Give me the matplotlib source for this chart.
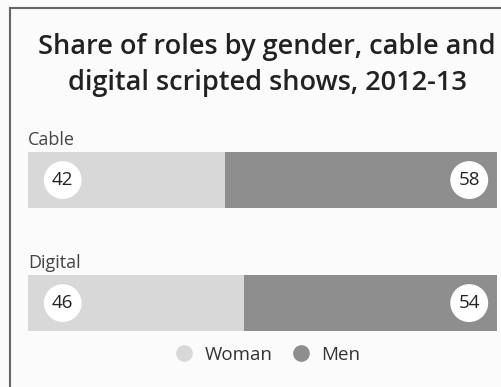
import matplotlib
matplotlib.use("Agg")
import matplotlib.pyplot as plt
from matplotlib.lines import Line2D

categories = ["Cable", "Digital"]
woman = [42, 46]
men = [58, 54]
series_names = ["Woman", "Men"]
title = "Share of roles by gender, cable and\ndigital scripted shows, 2012-13"

W, H = 501, 387
fig = plt.figure(figsize=(W / 100, H / 100), dpi=100)
fig.patch.set_facecolor("#fbfbfb")
plt.rcParams['font.family'] = ['Open Sans', 'DejaVu Sans']

c_woman = "#d8d8d8"
c_men = "#8e8e8e"

def fx(px):
    return px / W

def fy(py):
    return 1 - py / H

# frame
fig.add_artist(Line2D([fx(10), fx(10)], [fy(8), 0], color="#666666", lw=1.5, transform=fig.transFigure))
fig.add_artist(Line2D([fx(10), 1], [fy(8), fy(8)], color="#666666", lw=1.5, transform=fig.transFigure))

fig.text(fx(267), fy(65), title, ha="center", va="center", fontsize=19.5,
         color="#222222", linespacing=1.38, fontweight="semibold")

ax = fig.add_axes([fx(28), fy(340), fx(497) - fx(28), (340 - 145) / H])
ax.set_facecolor("none")
ypos = list(range(len(categories)))
bh = 0.455
ax.barh(ypos, woman, height=bh, color=c_woman, label=series_names[0])
ax.barh(ypos, men, left=woman, height=bh, color=c_men, label=series_names[1])
ax.set_xlim(0, 100)
ax.set_ylim(1.30, -0.285)
ax.axis("off")

for i, cat in enumerate(categories):
    ax.annotate(cat, xy=(0, i - bh / 2), xytext=(0, 2), textcoords="offset points",
                ha="left", va="bottom", fontsize=13, color="#444444")
    circ = dict(boxstyle="circle,pad=0.4", fc="white", ec="white")
    ax.annotate(str(woman[i]), xy=(0, i), xytext=(25, 0), textcoords="offset points",
                ha="center", va="center", fontsize=13.5, color="#222222", bbox=circ)
    ax.annotate(str(men[i]), xy=(woman[i] + men[i], i), xytext=(-20, 0), textcoords="offset points",
                ha="center", va="center", fontsize=13.5, color="#222222", bbox=circ)

handles = [Line2D([], [], marker="o", ls="", markersize=11, color=c_woman),
           Line2D([], [], marker="o", ls="", markersize=11, color=c_men)]
fig.legend(handles, series_names, loc="center", bbox_to_anchor=(fx(263), fy(355)), ncol=2,
           frameon=False, fontsize=13.5, handletextpad=0.1, columnspacing=0.5,
           labelcolor="#333333")

fig.savefig("out.png", dpi=100, facecolor=fig.get_facecolor())
